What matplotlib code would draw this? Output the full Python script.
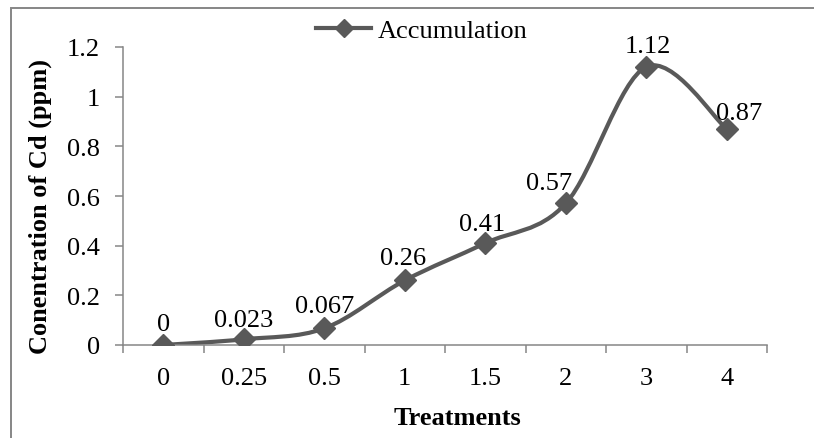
import numpy as np
import matplotlib
matplotlib.use("Agg")
import matplotlib.pyplot as plt
from matplotlib.path import Path
from matplotlib.patches import PathPatch, Rectangle
from matplotlib.lines import Line2D

# Datos
treatments = ["0", "0.25", "0.5", "1", "1.5", "2", "3", "4"]
accumulation = [0, 0.023, 0.067, 0.26, 0.41, 0.57, 1.12, 0.87]
value_labels = ["0", "0.023", "0.067", "0.26", "0.41", "0.57", "1.12", "0.87"]
y_ticks = [0, 0.2, 0.4, 0.6, 0.8, 1.0, 1.2]
y_tick_labels = ["0", "0.2", "0.4", "0.6", "0.8", "1", "1.2"]

# offsets de etiquetas (pixeles)
label_offsets = [(0, 10), (0, 8), (0, 11), (-2, 11), (-3, 8), (-17, 9), (2, 10), (12, 5)]

plt.rcParams['font.family'] = ['Liberation Serif', 'DejaVu Serif']
line_color = '#595959'
axis_color = '#868686'
fs = 19

fig = plt.figure(figsize=(8.14, 4.39), dpi=100)
ax = fig.add_axes([123 / 814, 1 - 346 / 439, (767 - 123) / 814, (346 - 48) / 439])

# marco exterior
fig.patches.append(Rectangle((11 / 814, -0.05), 1.2, (439 - 9) / 439 + 0.05,
                             transform=fig.transFigure, fill=False,
                             edgecolor=axis_color, linewidth=1.4))

x = np.arange(len(treatments))
y = np.array(accumulation, dtype=float)

# curva suavizada (Bezier estilo Excel)
pts = np.column_stack([x, y])
ext = np.vstack([pts[0], pts, pts[-1]])
verts = [tuple(pts[0])]
codes = [Path.MOVETO]
for i in range(len(pts) - 1):
    p_prev, p0, p1, p_next = ext[i], ext[i + 1], ext[i + 2], ext[i + 3]
    c1 = p0 + (p1 - p_prev) / 6
    c2 = p1 - (p_next - p0) / 6
    verts += [tuple(c1), tuple(c2), tuple(p1)]
    codes += [Path.CURVE4] * 3
ax.add_patch(PathPatch(Path(verts, codes), facecolor='none', edgecolor=line_color,
                       linewidth=3, capstyle='round', joinstyle='round', zorder=2))
ax.plot(x, y, linestyle='none', marker='D', markersize=11.5, color=line_color, zorder=3)

for xi, yi, lab, off in zip(x, y, value_labels, label_offsets):
    ax.annotate(lab, (xi, yi), xytext=(off[0] * 0.72, off[1] * 0.72), textcoords='offset points',
                ha='center', va='bottom', fontsize=fs, color='black')

ax.set_xlim(-0.5, len(treatments) - 0.5)
ax.set_ylim(0, 1.2)
ax.set_yticks(y_ticks)
ax.set_yticklabels(y_tick_labels, fontsize=fs)
ax.set_xticks(np.arange(len(treatments) + 1) - 0.5)
ax.set_xticklabels([])
ax.set_xticks(x, minor=True)
ax.set_xticklabels(treatments, minor=True, fontsize=fs)
ax.tick_params(axis='x', which='major', direction='out', length=5.5, width=1.1, color=axis_color)
ax.tick_params(axis='x', which='minor', length=0, pad=16)
ax.tick_params(axis='y', direction='out', length=5.8, width=1.1, color=axis_color, pad=11)

for side in ['top', 'right']:
    ax.spines[side].set_visible(False)
for side in ['left', 'bottom']:
    ax.spines[side].set_color(axis_color)
    ax.spines[side].set_linewidth(1.1)

fig.text(40 / 814, 1 - 207 / 439, "Conentration of Cd (ppm)", rotation=90,
         ha='center', va='center', fontsize=fs, fontweight='bold')
fig.text(457 / 814, 1 - 419 / 439, "Treatments", ha='center', va='center',
         fontsize=fs, fontweight='bold')

handle = Line2D([], [], color=line_color, linewidth=3, marker='D', markersize=9)
fig.legend([handle], ["Accumulation"], loc='center left',
           bbox_to_anchor=(316 / 814, 1 - 31 / 439), frameon=False, borderpad=0,
           borderaxespad=0, handlelength=2.1, handletextpad=0.25, fontsize=fs)

fig.savefig("out.png", dpi=100)
